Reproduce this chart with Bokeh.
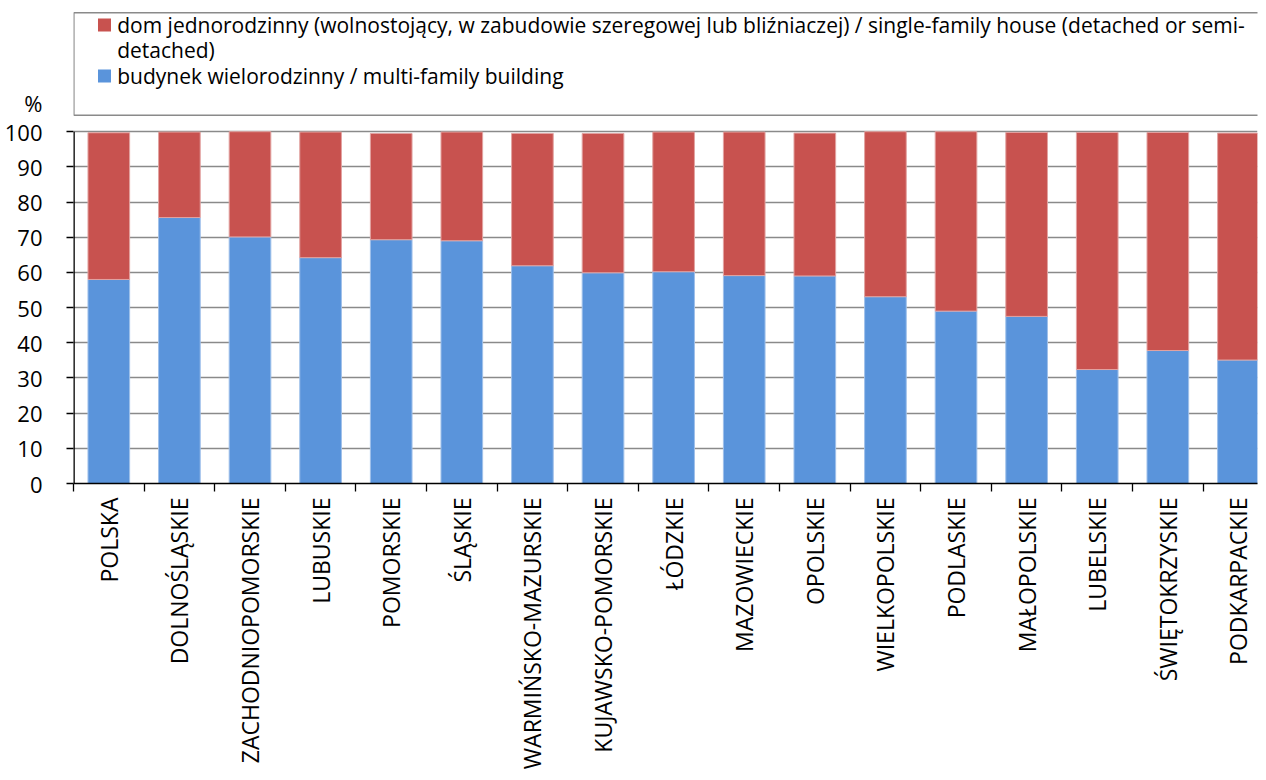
import numpy as np
from bokeh.plotting import figure
from bokeh.models import FixedTicker, Range1d, ColumnDataSource
from bokeh.core.properties import value
from bokeh.embed import file_html
from bokeh.resources import INLINE

# ---------------- data ----------------
categories = ["POLSKA", "DOLNOŚLĄSKIE", "ZACHODNIOPOMORSKIE", "LUBUSKIE", "POMORSKIE",
              "ŚLĄSKIE", "WARMIŃSKO-MAZURSKIE", "KUJAWSKO-POMORSKIE", "ŁÓDZKIE",
              "MAZOWIECKIE", "OPOLSKIE", "WIELKOPOLSKIE", "PODLASKIE", "MAŁOPOLSKIE",
              "LUBELSKIE", "ŚWIĘTOKRZYSKIE", "PODKARPACKIE"]
multi_family = [58.0, 75.6, 70.1, 64.2, 69.3, 69.0, 61.9, 59.9, 60.2,
                59.1, 59.0, 53.1, 49.0, 47.5, 32.4, 37.8, 35.1]
single_family = [41.7, 24.3, 29.9, 35.7, 30.2, 30.9, 37.6, 39.6, 39.7,
                 40.8, 40.6, 46.9, 51.0, 52.3, 67.4, 62.0, 64.5]
y_ticks = [0, 10, 20, 30, 40, 50, 60, 70, 80, 90, 100]
legend_single = ("dom jednorodzinny (wolnostojący, w zabudowie szeregowej lub bliźniaczej) "
                 "/ single-family house (detached or semi-")
legend_single_cont = "detached)"
legend_multi = "budynek wielorodzinny / multi-family building"
unit_label = "%"

# ---------------- styling ----------------
FONT = "Open Sans"
BLUE = "#5A94DB"
RED = "#C8524F"
GRID = "#8A8A8A"
UNIT_POS = 108.1   # vertical position of the "%" caption (layout, not data)

n = len(categories)
xs = np.arange(n) + 0.5
boundaries = list(range(n + 1))
bottoms = np.array(multi_family)
tops = bottoms + np.array(single_family)

src = ColumnDataSource(dict(x=xs, multi=multi_family, bottom=bottoms, top=tops))

p = figure(width=1258, height=772, output_backend="svg", toolbar_location=None,
           x_range=Range1d(0, 16.77), y_range=Range1d(0, 134.45),
           min_border_left=73, min_border_right=1, min_border_top=10, min_border_bottom=287)
p.outline_line_color = None
p.background_fill_color = "white"
p.border_fill_color = "white"

# grid
p.xgrid.visible = False
p.ygrid.ticker = FixedTicker(ticks=y_ticks)
p.ygrid.grid_line_color = GRID
p.ygrid.grid_line_width = 1.6

# bars
p.vbar(x="x", width=0.59, bottom=0, top="multi", source=src,
       fill_color=BLUE, line_color="#9FC0EA", line_width=1)
p.vbar(x="x", width=0.59, bottom="bottom", top="top", source=src,
       fill_color=RED, line_color="#E2A3A1", line_width=1)

# y axis: value labels + the "%" caption as an extra label; tick marks drawn as minor ticks
yax = p.yaxis[0]
yax.ticker = FixedTicker(ticks=y_ticks + [UNIT_POS], minor_ticks=y_ticks)
yax.major_label_overrides = {UNIT_POS: unit_label}
yax.axis_line_color = None
yax.major_tick_out = 0
yax.major_tick_in = 0
yax.minor_tick_out = 7
yax.minor_tick_in = 0
yax.minor_tick_line_color = "black"
yax.minor_tick_line_width = 1.3
yax.major_label_standoff = 24
yax.major_label_text_font = FONT
yax.major_label_text_font_size = "22px"
yax.major_label_text_color = "black"

# y axis line limited to 0..100
p.segment(x0=[0], y0=[y_ticks[0]], x1=[0], y1=[y_ticks[-1]], line_color="black", line_width=2.6)

# x axis: labels at centres, ticks at category boundaries
xax = p.xaxis[0]
xax.ticker = FixedTicker(ticks=list(xs), minor_ticks=boundaries)
xax.major_label_overrides = {float(x): c for x, c in zip(xs, categories)}
xax.major_label_orientation = np.pi / 2
xax.major_tick_out = 0
xax.major_tick_in = 0
xax.minor_tick_out = 8
xax.minor_tick_in = 0
xax.minor_tick_line_color = "black"
xax.minor_tick_line_width = 1.3
xax.axis_line_color = "black"
xax.axis_line_width = 1.3
xax.major_label_standoff = 6
xax.major_label_text_font = FONT
xax.major_label_text_font_size = "23px"
xax.major_label_text_color = "black"

# legend box (drawn inside the upper part of the frame)
p.quad(left=[0.005], right=[20], top=[133.8], bottom=[104.7],
       fill_color=None, line_color=GRID, line_width=1.5)
p.scatter(x=[0.439], y=[130.3], marker="square", size=13, fill_color=RED, line_color=None)
p.scatter(x=[0.439], y=[115.8], marker="square", size=13, fill_color=BLUE, line_color=None)
p.text(x=[0.619, 0.619, 0.619], y=[130.3, 123.1, 115.8],
       text=[legend_single, legend_single_cont, legend_multi],
       text_font=value(FONT), text_font_size="21px", text_color="black",
       text_baseline="middle", text_align="left")

open("out.html", "w").write(file_html(p, INLINE))
